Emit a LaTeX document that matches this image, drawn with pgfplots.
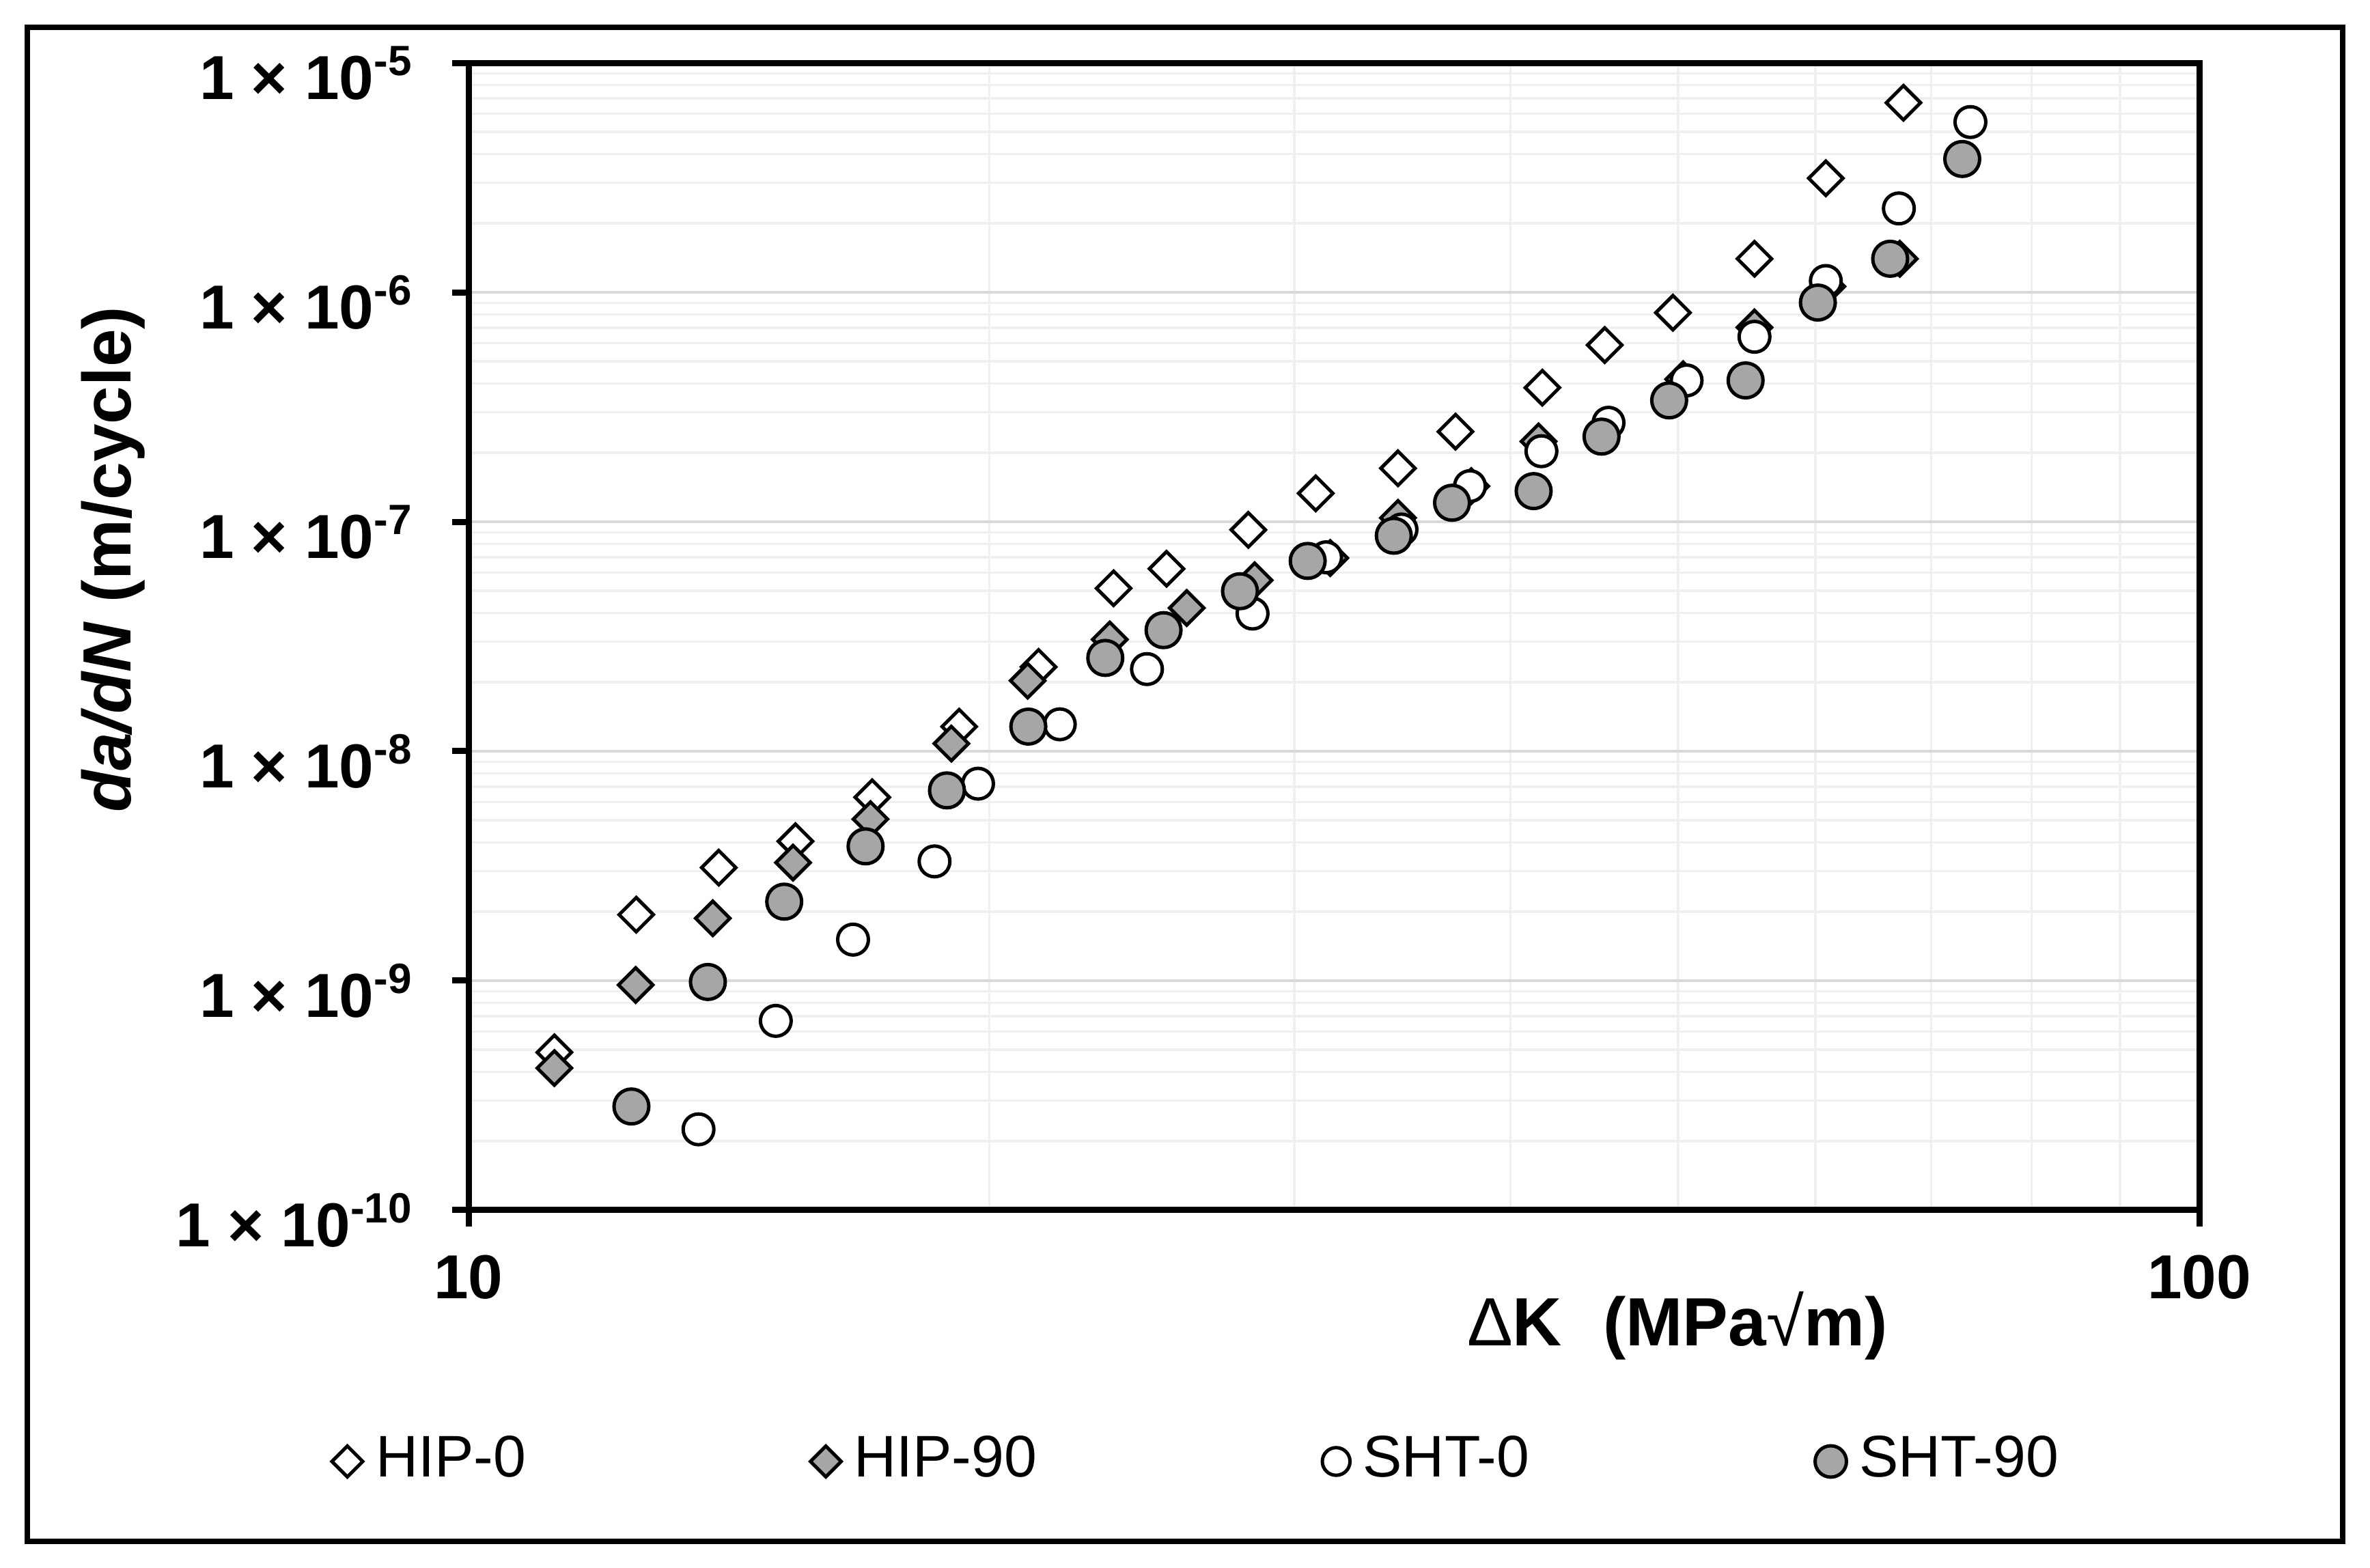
\documentclass[border=0pt]{standalone}
\usepackage{pgfplots}
\pgfplotsset{compat=1.18}
\usepackage{fontspec}
\setmainfont{Liberation Sans}

\definecolor{markgray}{RGB}{166,166,166}
\definecolor{majgrid}{RGB}{217,217,217}
\definecolor{mingrid}{RGB}{240,240,240}
\newcommand\ex[1]{\raisebox{0.38em}{\fontsize{6.2}{7}\selectfont\bfseries #1}}

\begin{document}
\begin{tikzpicture}
\begin{axis}[
  xmode=log, ymode=log,
  scale only axis, width=253.4pt, height=168pt,
  xmin=10, xmax=100, ymin=1e-10, ymax=1e-5,
  xtick={10,100}, xticklabels={10,100},
  minor xtick={20,30,40,50,60,70,80,90},
  ytick={1e-10,1e-9,1e-8,1e-7,1e-6,1e-5},
  yticklabels={
    1 × 10\ex{-10},
    1 × 10\ex{-9},
    1 × 10\ex{-8},
    1 × 10\ex{-7},
    1 × 10\ex{-6},
    1 × 10\ex{-5}},
  minor ytick={2e-10,3e-10,4e-10,5e-10,6e-10,7e-10,8e-10,9e-10,
               2e-9,3e-9,4e-9,5e-9,6e-9,7e-9,8e-9,9e-9,
               2e-8,3e-8,4e-8,5e-8,6e-8,7e-8,8e-8,9e-8,
               2e-7,3e-7,4e-7,5e-7,6e-7,7e-7,8e-7,9e-7,
               2e-6,3e-6,4e-6,5e-6,6e-6,7e-6,8e-6,9e-6},
  grid=both,
  major grid style={color=majgrid, line width=0.35pt},
  minor grid style={color=mingrid, line width=0.35pt},
  axis line style={line width=0.9pt},
  tick align=outside, tick pos=left,
  major tick length=2.4pt, minor tick length=0pt,
  major tick style={line width=0.9pt, black},
  tick label style={font=\fontsize{9.1}{11}\selectfont\bfseries},
  yticklabel style={xshift=-2.4pt, yshift=-1.5pt},
  xticklabel style={yshift=-0.7pt},
  xlabel={\textmd{Δ}K\hspace{0.6em}(MPa\textmd{√}m)},
  xlabel style={font=\fontsize{10}{12}\selectfont\bfseries,
    at={([yshift=-16.9pt]rel axis cs:0.6985,0)}, anchor=center},
  ylabel={\textit{da/dN} (m/cycle)},
  ylabel style={font=\fontsize{10}{12}\selectfont\bfseries,
    at={([xshift=-52pt]rel axis cs:0,0.567)}, anchor=center},
  clip mode=individual,
  legend columns=4,
  legend image code/.code={\draw[#1,/tikz/every mark/.append style={scale=0.9}] plot coordinates {(0pt,0pt)};},
  legend style={draw=none, fill=none, inner sep=0pt,
    at={([xshift=-20.2pt,yshift=-36.8pt]rel axis cs:0,0)}, anchor=west,
    font=\fontsize{8.6}{10}\selectfont,
    nodes={inner xsep=1.9pt, inner ysep=0pt}},
]

% HIP-0
\addplot[only marks, black, mark=square*, mark size=1.77pt,
  mark options={rotate=45, fill=white, draw=black, line width=0.5pt}]
coordinates {
(11.21,4.87e-10) (12.50,1.94e-9) (13.95,3.11e-9) (15.45,4.05e-9)
(17.11,6.30e-9) (19.21,1.28e-8) (21.35,2.33e-8) (23.59,5.13e-8)
(25.31,6.24e-8) (28.22,9.22e-8) (30.87,1.33e-7) (34.44,1.71e-7)
(37.18,2.47e-7) (41.73,3.84e-7) (45.34,5.89e-7) (49.65,8.15e-7)
(55.34,1.40e-6) (60.85,3.14e-6) (67.47,6.70e-6)
};
\addlegendentry{\makebox[61.75pt][l]{HIP-0}}

% HIP-90
\addplot[only marks, black, mark=square*, mark size=1.77pt,
  mark options={rotate=45, fill=markgray, draw=black, line width=0.5pt}]
coordinates {
(11.21,4.16e-10) (12.49,9.58e-10) (13.84,1.87e-9) (15.40,3.27e-9)
(17.07,5.06e-9) (19.01,1.08e-8) (21.04,2.03e-8) (23.47,3.07e-8)
(26.00,4.21e-8) (28.46,5.56e-8) (31.47,6.95e-8) (34.44,1.04e-7)
(37.97,1.43e-7) (41.52,2.24e-7) (50.33,4.18e-7) (55.34,7.03e-7)
(60.98,1.06e-6) (67.14,1.40e-6)
};
\addlegendentry{\makebox[66.65pt][l]{HIP-90}}

% SHT-0
\addplot[only marks, black, mark=*, mark size=2.25pt,
  mark options={fill=white, draw=black, line width=0.5pt}]
coordinates {
(13.58,2.25e-10) (15.05,6.68e-10) (16.68,1.51e-9) (18.59,3.31e-9)
(19.70,7.22e-9) (21.96,1.31e-8) (24.66,2.28e-8) (28.38,3.98e-8)
(31.30,7.00e-8) (34.60,9.25e-8) (37.90,1.43e-7) (41.68,2.03e-7)
(45.57,2.70e-7) (50.56,4.13e-7) (55.34,6.40e-7) (60.85,1.12e-6)
(67.06,2.32e-6) (73.76,5.52e-6)
};
\addlegendentry{\makebox[64.3pt][l]{SHT-0}}

% SHT-90
\addplot[only marks, black, mark=*, mark size=2.55pt,
  mark options={fill=markgray, draw=black, line width=0.5pt}]
coordinates {
(12.42,2.83e-10) (13.75,9.87e-10) (15.22,2.21e-9) (16.96,3.85e-9)
(18.90,6.75e-9) (21.06,1.28e-8) (23.33,2.55e-8) (25.21,3.37e-8)
(27.91,4.98e-8) (30.54,6.75e-8) (34.25,8.69e-8) (37.01,1.21e-7)
(41.25,1.36e-7) (45.15,2.35e-7) (49.40,3.38e-7) (54.69,4.13e-7)
(60.21,9.02e-7) (66.29,1.40e-6) (72.96,3.81e-6)
};
\addlegendentry{SHT-90}

% outer chart frame and page margin
\draw[line width=0.8pt] ([xshift=-64.6pt,yshift=-48.5pt]rel axis cs:0,0) rectangle ([xshift=21pt,yshift=5.2pt]rel axis cs:1,1);
\path ([xshift=-68.6pt,yshift=-52.4pt]rel axis cs:0,0) rectangle ([xshift=25pt,yshift=9.2pt]rel axis cs:1,1);
\end{axis}
\end{tikzpicture}
\end{document}
